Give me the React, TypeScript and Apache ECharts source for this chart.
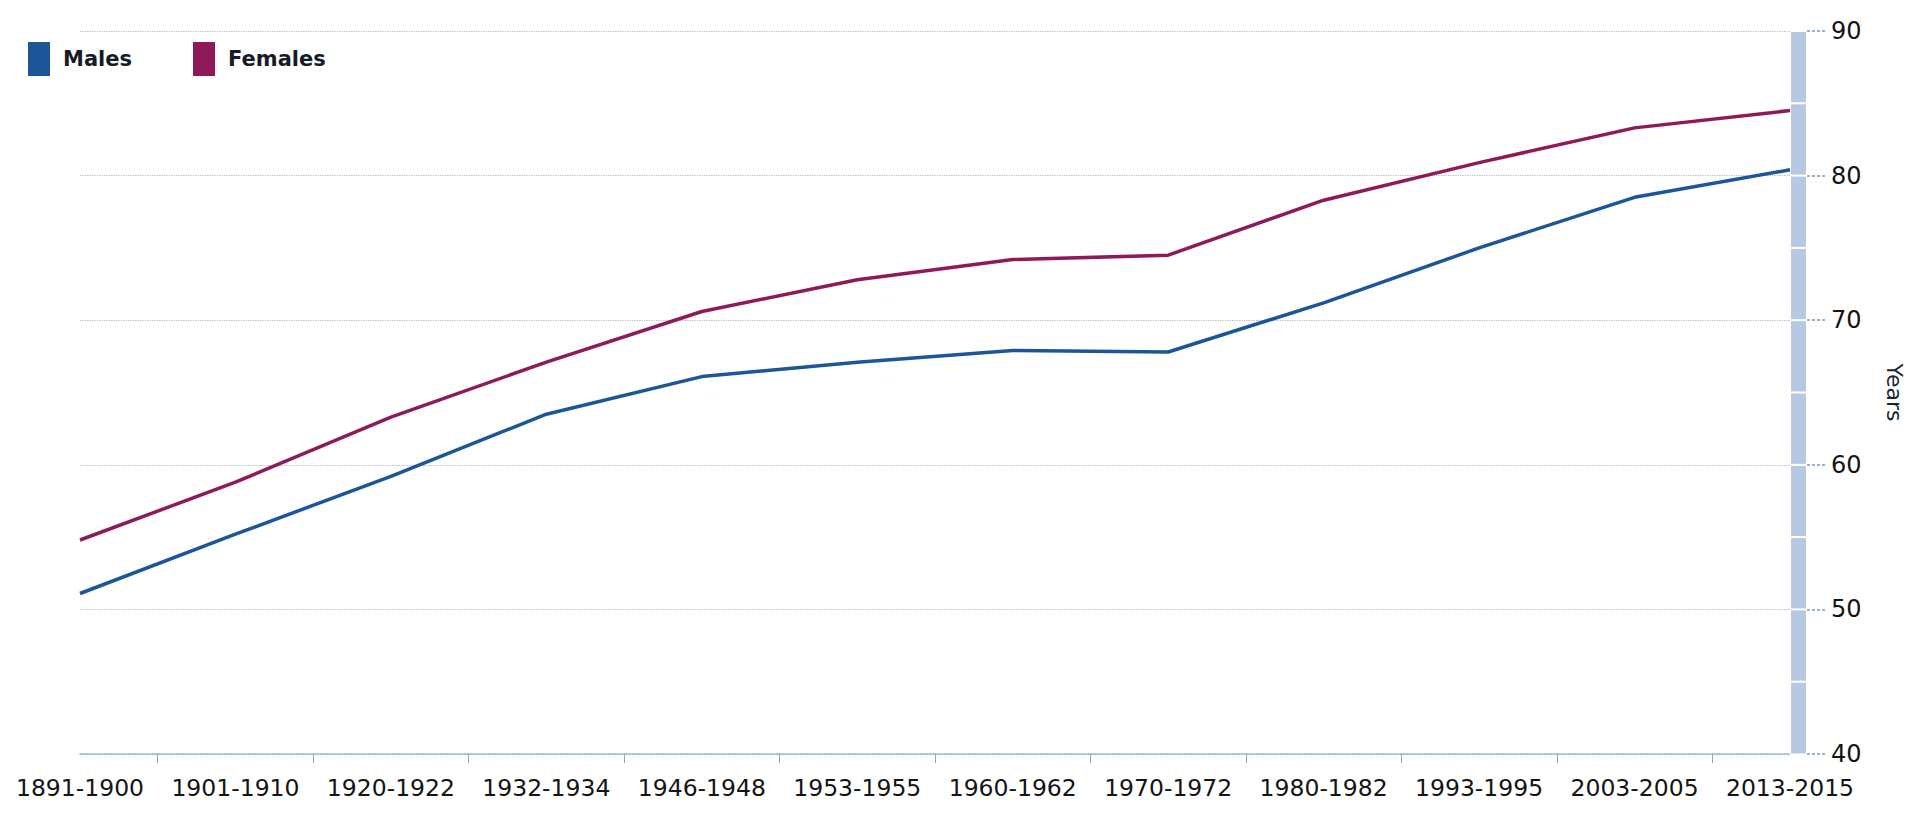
import React, { useEffect, useRef } from "react";
import * as echarts from "echarts";

const categories = [
  "1891-1900", "1901-1910", "1920-1922", "1932-1934", "1946-1948", "1953-1955",
  "1960-1962", "1970-1972", "1980-1982", "1993-1995", "2003-2005", "2013-2015",
];
const males = [51.1, 55.2, 59.2, 63.5, 66.1, 67.1, 67.9, 67.8, 71.2, 75.0, 78.5, 80.4];
const females = [54.8, 58.8, 63.3, 67.1, 70.6, 72.8, 74.2, 74.5, 78.3, 80.9, 83.3, 84.5];
const bandSegments = [5, 5, 5, 5, 5, 5, 5, 5, 5, 5];
const yMin = 40;
const yMax = 90;
const yInterval = 10;

// half-step categories used only for ticks between the labels
const halfSteps: string[] = [];
categories.forEach((c, i) => {
  halfSteps.push(c);
  if (i < categories.length - 1) halfSteps.push(c + "|mid");
});

export default function App() {
  const ref = useRef<HTMLDivElement>(null);
  useEffect(() => {
    if (!ref.current) return;
    const chart = echarts.init(ref.current, undefined, { renderer: "svg" });
    const font = "'DejaVu Sans', Verdana, sans-serif";
    const gridTop = 31;
    const gridBottom = 66;
    chart.setOption({
      animation: false,
      backgroundColor: "#ffffff",
      legend: {
        left: 28,
        top: 42,
        padding: 0,
        icon: "rect",
        itemWidth: 22,
        itemHeight: 34,
        itemGap: 61,
        data: ["Males", "Females"],
        textStyle: {
          fontFamily: font,
          fontWeight: "bold",
          fontSize: 21,
          color: "#151c28",
          padding: [0, 0, 0, 8],
        },
      },
      grid: [
        { left: 80, right: 130, top: gridTop, bottom: gridBottom },
        { left: 1790, width: 17, top: gridTop, bottom: gridBottom },
      ],
      xAxis: [
        {
          type: "category",
          gridIndex: 0,
          data: categories,
          boundaryGap: false,
          axisLine: { show: true, lineStyle: { color: "#98aec8", type: "dotted", width: 1.5 } },
          axisTick: { show: false },
          axisLabel: {
            interval: 0,
            margin: 22,
            fontFamily: font,
            fontSize: 23.5,
            color: "#141414",
          },
          splitLine: { show: false },
        },
        {
          type: "category",
          gridIndex: 0,
          data: halfSteps,
          boundaryGap: false,
          position: "bottom",
          axisLine: { show: false },
          axisLabel: { show: false },
          axisTick: {
            show: true,
            interval: (index: number) => index % 2 === 1,
            length: 9,
            lineStyle: { color: "#8fa3c5", width: 1 },
          },
          splitLine: { show: false },
        },
        {
          type: "category",
          gridIndex: 1,
          data: ["band"],
          show: false,
        },
      ],
      yAxis: [
        {
          type: "value",
          gridIndex: 0,
          min: yMin,
          max: yMax,
          interval: yInterval,
          position: "right",
          offset: 17,
          name: "Years",
          nameLocation: "middle",
          nameRotate: -90,
          nameGap: 76,
          nameTextStyle: { fontFamily: font, fontSize: 22, color: "#1a2630" },
          axisLine: { show: false },
          axisTick: {
            show: true,
            inside: false,
            length: 18,
            lineStyle: { color: "#7f97bb", type: [3, 2], width: 1.5 },
          },
          axisLabel: {
            margin: 24,
            fontFamily: font,
            fontSize: 24,
            color: "#141414",
          },
          splitLine: { show: true, lineStyle: { color: "#aeb8c2", type: "dotted", width: 1.2 } },
        },
        {
          type: "value",
          gridIndex: 1,
          min: yMin,
          max: yMax,
          show: false,
        },
      ],
      series: [
        {
          name: "Males",
          type: "line",
          xAxisIndex: 0,
          yAxisIndex: 0,
          data: males,
          symbol: "none",
          lineStyle: { color: "#1c5699", width: 3.5 },
          itemStyle: { color: "#1c5699" },
          z: 3,
        },
        {
          name: "Females",
          type: "line",
          xAxisIndex: 0,
          yAxisIndex: 0,
          data: females,
          symbol: "none",
          lineStyle: { color: "#8e1a5a", width: 3.5 },
          itemStyle: { color: "#8e1a5a" },
          z: 3,
        },
        ...bandSegments.map((v, i) => ({
          name: "band" + i,
          type: "bar",
          xAxisIndex: 2,
          yAxisIndex: 1,
          stack: "band",
          barWidth: "100%",
          data: [i === 0 ? yMin + v : v],
          itemStyle: {
            color: "#b7c9e2",
            borderColor: "#ffffff",
            borderWidth: 1,
          },
          silent: true,
        })),
      ],
    });
    return () => chart.dispose();
  }, []);
  return (
    <div
      ref={ref}
      style={{ position: "fixed", left: 0, top: 0, width: 1920, height: 820 }}
    />
  );
}
